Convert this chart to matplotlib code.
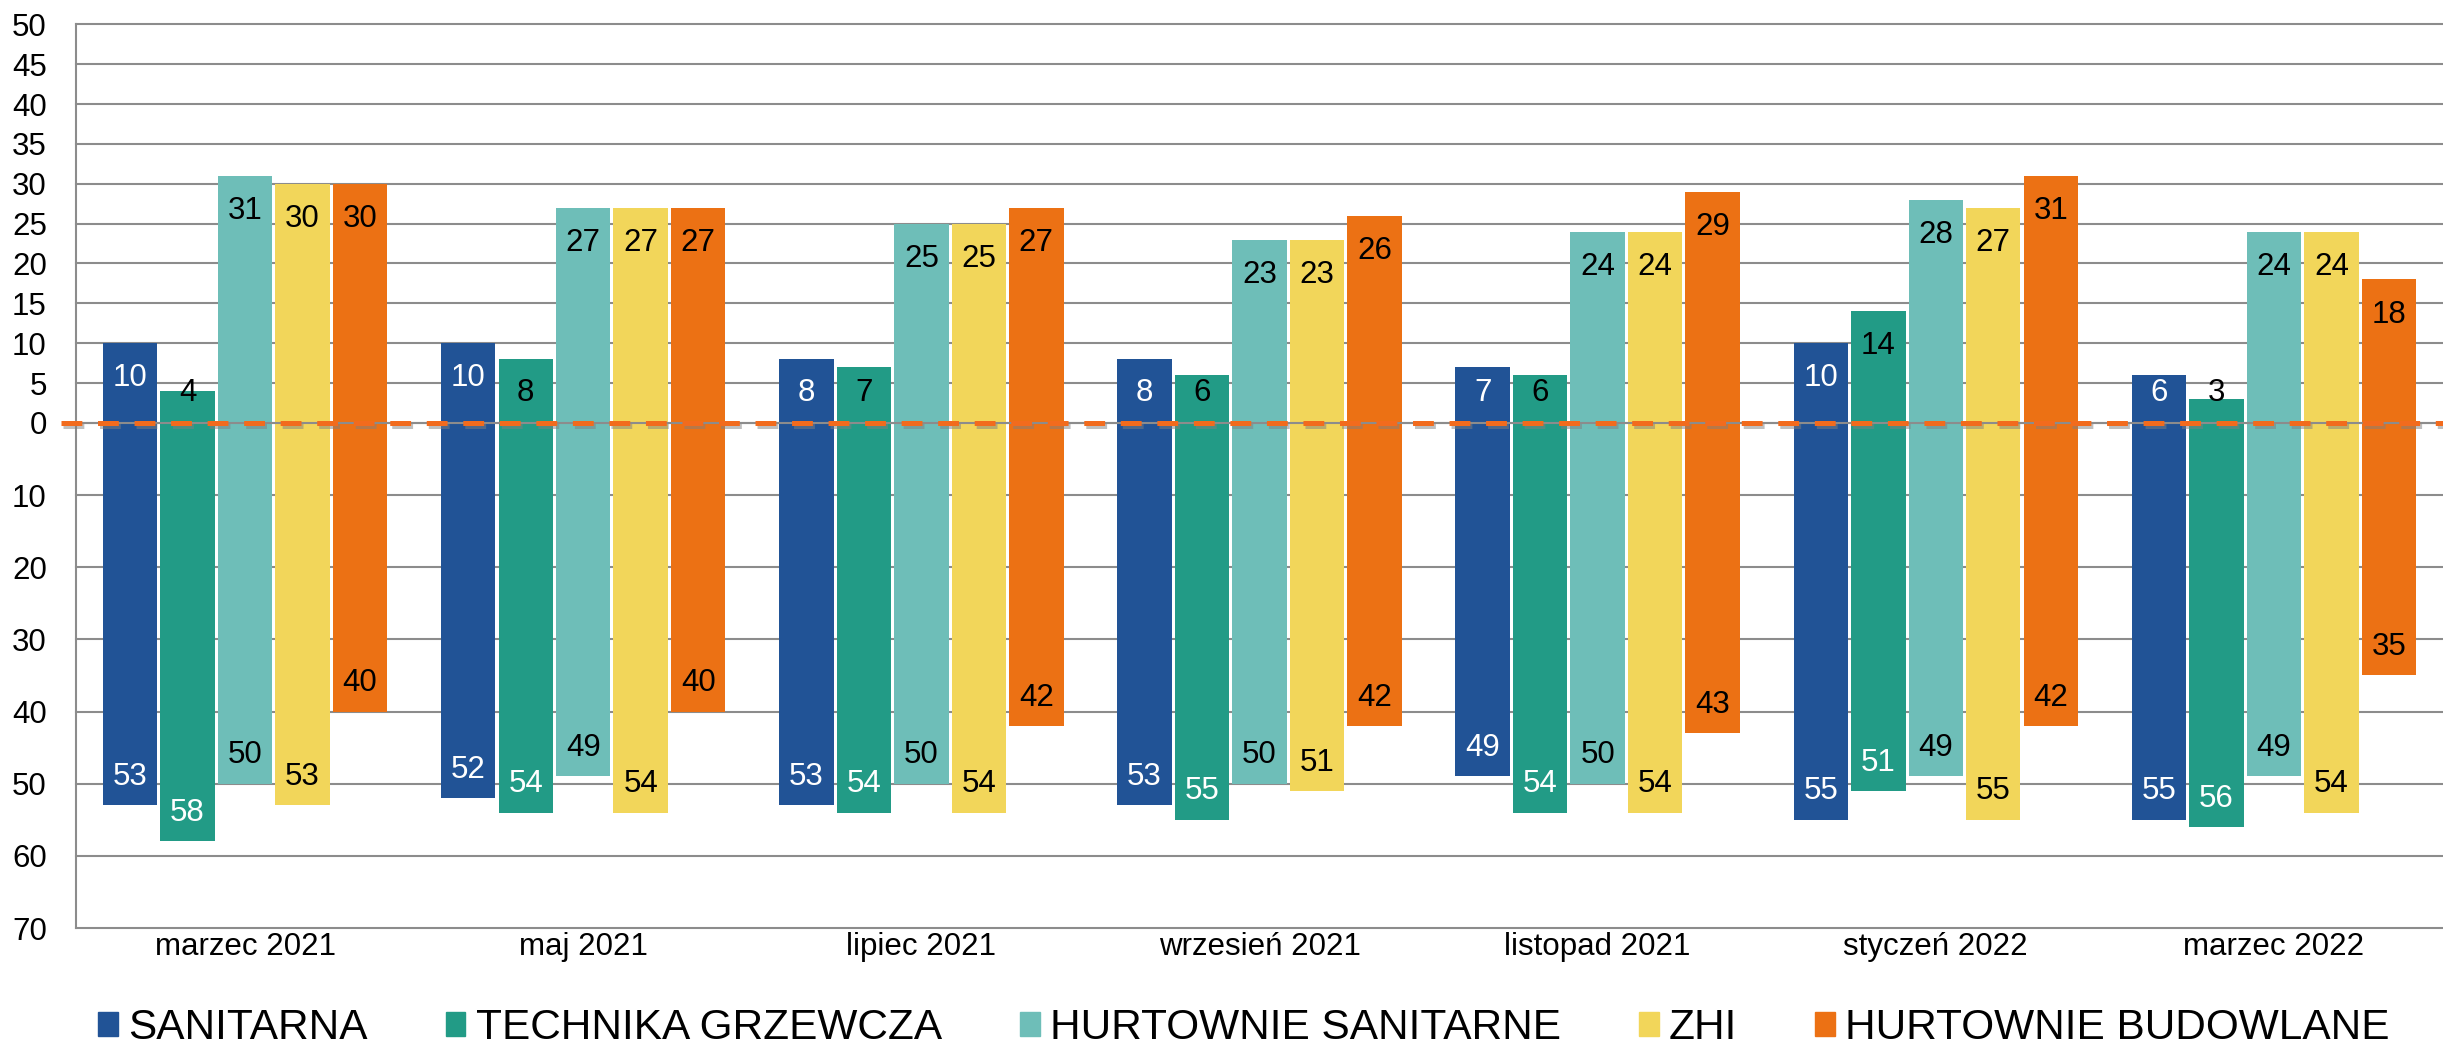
import numpy as np
import matplotlib
matplotlib.use("Agg")
import matplotlib.pyplot as plt
import matplotlib.patheffects as pe
from matplotlib.patches import Rectangle

# Data: upper half = positive answers, lower half = negative answers
months = ["marzec 2021", "maj 2021", "lipiec 2021", "wrzesień 2021",
          "listopad 2021", "styczeń 2022", "marzec 2022"]
names = ["SANITARNA", "TECHNIKA GRZEWCZA", "HURTOWNIE SANITARNE", "ZHI", "HURTOWNIE BUDOWLANE"]
colors = ["#215396", "#229B86", "#6EBEB8", "#F2D65A", "#EC7114"]

up_sanitarna = [10, 10, 8, 8, 7, 10, 6]
up_technika = [4, 8, 7, 6, 6, 14, 3]
up_hurt_san = [31, 27, 25, 23, 24, 28, 24]
up_zhi = [30, 27, 25, 23, 24, 27, 24]
up_hurt_bud = [30, 27, 27, 26, 29, 31, 18]

down_sanitarna = [53, 52, 53, 53, 49, 55, 55]
down_technika = [58, 54, 54, 55, 54, 51, 56]
down_hurt_san = [50, 49, 50, 50, 50, 49, 49]
down_zhi = [53, 54, 54, 51, 54, 55, 54]
down_hurt_bud = [40, 40, 42, 42, 43, 42, 35]

ups = [up_sanitarna, up_technika, up_hurt_san, up_zhi, up_hurt_bud]
downs = [down_sanitarna, down_technika, down_hurt_san, down_zhi, down_hurt_bud]
up_text = ["white", "black", "black", "black", "black"]
down_text = ["white", "white", "black", "black", "black"]

up_ticks = np.arange(0, 55, 5)
down_ticks = np.arange(10, 80, 10)

plt.rcParams["font.family"] = ["Liberation Sans", "DejaVu Sans"]
plt.rcParams["lines.scale_dashes"] = False

k = 0.905  # lower half is drawn at a smaller scale than the upper half
W, H = 2443, 1049

fig = plt.figure(figsize=(W / 100, H / 100), dpi=100)
ax = fig.add_axes([76 / W, 1 - 928 / H, 1 - 76 / W, (928 - 24.3) / H])

x = np.arange(len(months))
slot = 0.17
bw = 0.161
for i in range(len(names)):
    xs = x + (i - 2) * slot
    up = np.array(ups[i])
    down = np.array(downs[i])
    ax.bar(xs, up, bw, color=colors[i], zorder=2)
    ax.bar(xs, -down * k, bw, color=colors[i], zorder=2)
    for xi, u, d in zip(xs, up, down):
        ax.text(xi, max(u - 4.4, 3.8), str(u), ha="center", va="center",
                fontsize=22.5, color=up_text[i], zorder=6)
        ax.text(xi, -d * k + 3.55, str(d), ha="center", va="center",
                fontsize=22.5, color=down_text[i], zorder=6)

# zero line + orange dashed line with a soft shadow
ax.axhline(0, color="#8c8c8c", lw=1.5, zorder=3)
ax.plot([-0.545, 6.5], [0, 0], color="#F26B1D", lw=3.6, dashes=(15, 11.3),
        dash_capstyle="butt", zorder=4, clip_on=False,
        path_effects=[pe.SimpleLineShadow(offset=(1.5, -2.5), shadow_color="gray", alpha=0.5),
                      pe.Normal()])

ax.set_xlim(-0.5, 6.5)
ax.set_ylim(-70 * k, 50)
ax.set_xticks(x)
ax.set_xticklabels(months)
ax.set_yticks(list(up_ticks) + list(-down_ticks * k))
ax.set_yticklabels([str(t) for t in up_ticks] + [str(t) for t in down_ticks])
ax.tick_params(axis="y", length=0, pad=21, labelsize=22.5)
ax.tick_params(axis="x", length=0, pad=3, labelsize=22.5)

ax.grid(axis="y", color="#8c8c8c", linewidth=1.5)
ax.set_axisbelow(True)
for line in ax.get_ygridlines():
    line.set_clip_on(False)
for s in ["top", "right", "bottom"]:
    ax.spines[s].set_visible(False)
ax.spines["left"].set_color("#8c8c8c")
ax.spines["left"].set_linewidth(1.5)

handles = [Rectangle((0, 0), 1, 1, color=c) for c in colors]
fig.legend(handles, names, loc="center left", bbox_to_anchor=(98 / W, 1 - 1028 / H),
           ncol=5, frameon=False, fontsize=30.5, handlelength=0.47, handleheight=0.52,
           handletextpad=0.24, columnspacing=1.84, borderpad=0, borderaxespad=0)

fig.savefig("out.png", dpi=100)
